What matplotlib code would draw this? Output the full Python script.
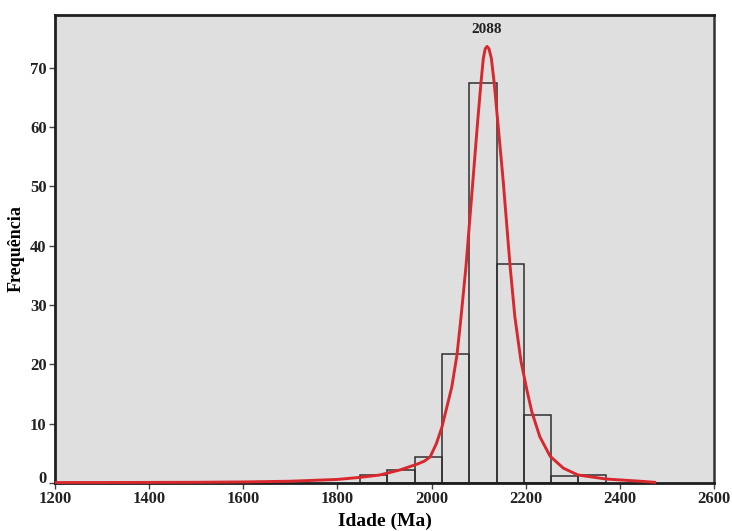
import matplotlib.pyplot as plt
import matplotlib.transforms as mtransforms
import numpy as np

plt.rcParams['font.family'] = 'Liberation Serif'
plt.rcParams['font.weight'] = 'bold'

# histogram bins (Ma) and bar heights
bin_edges = [1848, 1906, 1964, 2022, 2080, 2138, 2196, 2254, 2312, 2370]
freq = [1.3, 2.2, 4.4, 21.7, 67.4, 37.0, 11.5, 1.2, 1.3]

# probability density curve
curve_age = [1200, 1300, 1400, 1500, 1600, 1700, 1800, 1848, 1890, 1933, 1970,
             1985, 1997, 2010, 2022, 2043, 2054, 2062, 2073, 2088, 2098, 2105,
             2110, 2114, 2118, 2122, 2127, 2133, 2152, 2167, 2177, 2190, 2203,
             2213, 2230, 2252, 2280, 2311, 2371, 2443, 2477]
curve_freq = [0.08, 0.08, 0.1, 0.12, 0.18, 0.3, 0.6, 0.95, 1.35, 2.2, 3.2,
              3.7, 4.4, 6.6, 9.4, 16.2, 21.6, 27.5, 36.4, 51.1, 61.0, 67.5,
              71.6, 73.2, 73.6, 73.2, 71.6, 67.5, 51.1, 36.4, 28.0, 20.5, 15.5,
              12.0, 7.8, 4.5, 2.5, 1.35, 0.67, 0.3, 0.1]

peak_label = '2088'
peak_age = 2118

fig = plt.figure(figsize=(7.32, 5.31), dpi=100)
ax = fig.add_axes([0.0751, 0.0904, 0.9003, 0.8814])
ax.set_facecolor('#dfdfdf')

widths = np.diff(bin_edges)
ax.bar(bin_edges[:-1], freq, width=widths, align='edge', fill=False,
       edgecolor='#303030', linewidth=1.1, zorder=2)
ax.plot(curve_age, curve_freq, color='#d8282e', linewidth=2.1,
        solid_capstyle='butt', solid_joinstyle='round', zorder=3, clip_on=False)

ax.text(peak_age, 75.4, peak_label, ha='center', va='bottom',
        fontsize=11, fontweight='bold', color='#222222')

ax.set_xlim(1200, 2600)
ax.set_ylim(0, 78.9)
ax.set_xticks(np.arange(1200, 2601, 200))
ax.set_yticks(np.arange(0, 71, 10))
ax.tick_params(axis='both', labelsize=12, length=4, width=1,
               color='#444444', labelcolor='#222222', pad=2)

# lift the "0" a little so it sits above "1200"
lift = mtransforms.ScaledTranslation(0, 4 / 72, fig.dpi_scale_trans)
zero_label = ax.get_yticklabels()[0]
zero_label.set_transform(zero_label.get_transform() + lift)

for side in ['left', 'bottom', 'top']:
    ax.spines[side].set_linewidth(2.0)
    ax.spines[side].set_color('#1e1e1e')
ax.spines['right'].set_linewidth(1.8)
ax.spines['right'].set_color('#333333')

ax.set_xlabel('Idade (Ma)', fontsize=14, fontweight='bold', labelpad=4)
ax.set_ylabel('Frequência', fontsize=13, fontweight='bold', labelpad=4)

plt.savefig('out.png', dpi=100)
